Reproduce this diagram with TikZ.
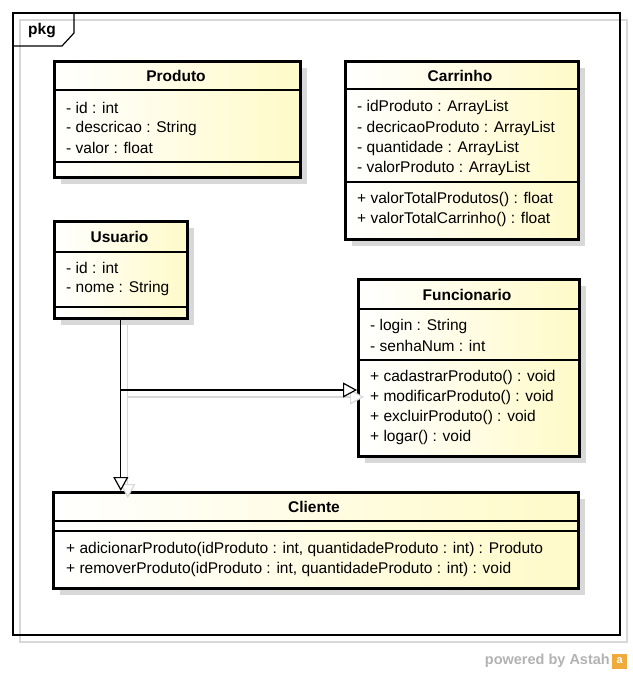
\documentclass[tikz,border=0pt]{standalone}
\usepackage{fontspec}
\setmainfont{Liberation Sans}
\usetikzlibrary{arrows.meta,shadows}
\definecolor{classyellow}{RGB}{255,250,200}
\definecolor{shadowgray}{RGB}{216,216,216}
\definecolor{astahgray}{RGB}{178,178,178}
\definecolor{astahorange}{RGB}{240,170,60}
\begin{document}
\begin{tikzpicture}[x=1pt,y=-1pt,
        classbox/.style={draw,line width=2.6pt,anchor=north west,inner sep=0pt,
            left color=white,right color=classyellow,
            drop shadow={shadow xshift=7pt,shadow yshift=-7pt,fill=shadowgray,opacity=1}},
        sep/.style={line width=1.3pt},
        member/.style={anchor=west,inner sep=0pt,font=\fontsize{15.5}{18}\selectfont},
        title/.style={inner sep=0pt,font=\fontsize{15.5}{18}\selectfont\bfseries},
        gen/.style={line width=1.2pt,-{Triangle[open,length=14pt,width=15pt,fill=white]}}]
    \useasboundingbox (0,0) rectangle (632,674);

    % package frame
    \draw[shadowgray,line width=1.2pt] (20,20) rectangle (627,642);
    \draw[line width=1.2pt] (13,13) rectangle (620,635);
    \draw[line width=1.2pt] (13,46) -- (62,46) -- (74,33) -- (74,13);
    \node[title,anchor=west] (pkg) at (28,31) {pkg};

    % Produto
    \node[classbox,minimum width=246pt,minimum height=116pt] (produto) at (53,60) {};
    \draw[sep] (53,90) -- (299,90);
    \draw[sep] (53,162) -- (299,162);
    \node[title] (produtoname) at (176,76) {Produto};
    \node[member] (produtoa1) at (66,108) {- id : int};
    \node[member] (produtoa2) at (66,128) {- descricao : String};
    \node[member] (produtoa3) at (66,148) {- valor : float};

    % Carrinho
    \node[classbox,minimum width=233pt,minimum height=178pt] (carrinho) at (344,60) {};
    \draw[sep] (344,89) -- (577,89);
    \draw[sep] (344,182) -- (577,182);
    \node[title] (carrinhoname) at (460,76) {Carrinho};
    \node[member] (carrinhoa1) at (357,107) {- idProduto : ArrayList};
    \node[member] (carrinhoa2) at (357,128) {- decricaoProduto : ArrayList};
    \node[member] (carrinhoa3) at (357,148) {- quantidade : ArrayList};
    \node[member] (carrinhoa4) at (357,168) {- valorProduto : ArrayList};
    \node[member] (carrinhoo1) at (357,199) {+ valorTotalProdutos() : float};
    \node[member] (carrinhoo2) at (357,219) {+ valorTotalCarrinho() : float};

    % Usuario
    \node[classbox,minimum width=133pt,minimum height=97pt] (usuario) at (53,220) {};
    \draw[sep] (53,252) -- (186,252);
    \draw[sep] (53,307) -- (186,307);
    \node[title] (usuarioname) at (119.5,237) {Usuario};
    \node[member] (usuarioa1) at (66,268) {- id : int};
    \node[member] (usuarioa2) at (66,288) {- nome : String};

    % Funcionario
    \node[classbox,minimum width=221pt,minimum height=177pt] (funcionario) at (357,278) {};
    \draw[sep] (357,309) -- (578,309);
    \draw[sep] (357,360) -- (578,360);
    \node[title] (funcionarioname) at (467,295) {Funcionario};
    \node[member] (funcionarioa1) at (370,326) {- login : String};
    \node[member] (funcionarioa2) at (370,346) {- senhaNum : int};
    \node[member] (funcionarioo1) at (370,377) {+ cadastrarProduto() : void};
    \node[member] (funcionarioo2) at (370,397) {+ modificarProduto() : void};
    \node[member] (funcionarioo3) at (370,417) {+ excluirProduto() : void};
    \node[member] (funcionarioo4) at (370,437) {+ logar() : void};

    % Cliente
    \node[classbox,minimum width=525pt,minimum height=96pt] (cliente) at (52,491) {};
    \draw[sep] (52,521) -- (577,521);
    \draw[sep] (52,531) -- (577,531);
    \node[title] (clientename) at (314,507) {Cliente};
    \node[member] (clienteo1) at (66,549) {+ adicionarProduto(idProduto : int, quantidadeProduto : int) : Produto};
    \node[member] (clienteo2) at (66,569) {+ removerProduto(idProduto : int, quantidadeProduto : int) : void};

    % generalizations, shadow first
    \coordinate (split) at (usuario.south |- 0,390);
    \draw[gen,shadowgray] ([shift={(7,0)}]usuario.south) -- ([shift={(7,7)}]usuario.south |- cliente.north);
    \draw[gen,shadowgray] ([shift={(7,7)}]split) -- ([shift={(7,7)}]split -| funcionario.west);
    \draw[gen] (usuario.south) -- (usuario.south |- cliente.north);
    \draw[gen] (split) -- (split -| funcionario.west);

    % footer
    \node[anchor=east,inner sep=0pt,text=astahgray,font=\fontsize{14.5}{16}\selectfont\bfseries] (powered) at (610,661) {powered by Astah};
    \node[anchor=west,fill=astahorange,text=white,inner sep=0pt,minimum size=15pt,font=\fontsize{11}{11}\selectfont\bfseries] (logo) at (612,661) {a};
\end{tikzpicture}
\end{document}
